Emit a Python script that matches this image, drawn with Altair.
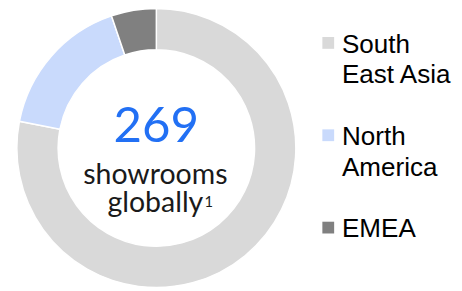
import altair as alt
import pandas as pd

regions = ["South East Asia", "North America", "EMEA"]
legend_labels = ["South\nEast Asia", "North\nAmerica", "EMEA"]
counts = [210, 45, 14]
colors = ["#d9d9d9", "#c9dafc", "#808080"]

total_text = ["269"]
sub_lines = ["showrooms", "globally"]
footnote = ["1"]

df = pd.DataFrame({"region": regions, "count": counts, "idx": list(range(len(regions))),
                   "label": legend_labels})

CX, CY = 151, 140

color_scale = alt.Scale(domain=regions, range=colors)

donut = alt.Chart(df).mark_arc(innerRadius=100, outerRadius=142, stroke="white", strokeWidth=1.5).encode(
    theta=alt.Theta("count:Q", stack=True),
    color=alt.Color("region:N", scale=color_scale, legend=None),
    order=alt.Order("idx:Q"),
    x=alt.value(CX), y=alt.value(CY),
)

big = alt.Chart(pd.DataFrame({"t": total_text})).mark_text(
    font="Lato", fontSize=50, color="#2270f4", baseline="alphabetic", align="center"
).encode(text="t:N", x=alt.value(CX), y=alt.value(134))

sub = alt.Chart(pd.DataFrame({"t": ["\n".join(sub_lines)]})).mark_text(
    font="Lato", fontSize=29, color="#1a1a1a", baseline="alphabetic", align="center",
    lineBreak="\n", lineHeight=28
).encode(text="t:N", x=alt.value(CX - 1), y=alt.value(177))

fn = alt.Chart(pd.DataFrame({"t": footnote})).mark_text(
    font="Lato", fontSize=15, color="#1a1a1a", baseline="alphabetic", align="left"
).encode(text="t:N", x=alt.value(CX + 49), y=alt.value(200))

ypos = alt.Y("region:N", scale=alt.Scale(domain=regions, range=[33, 221], padding=0), axis=None)

leg_sym = alt.Chart(df).mark_square(size=144, opacity=1).encode(
    x=alt.value(326), y=ypos,
    color=alt.Color("region:N", scale=color_scale, legend=None),
)

leg_txt = alt.Chart(df).mark_text(
    font="Liberation Sans", fontSize=26.5, align="left", baseline="alphabetic", dy=10,
    lineBreak="\n", lineHeight=31, color="#000000"
).encode(x=alt.value(340), y=ypos, text="label:N")

chart = alt.layer(donut, big, sub, fn, leg_sym, leg_txt).properties(
    width=454, height=283, autosize=alt.AutoSizeParams(type="none"), padding=0
).configure_view(stroke=None)

chart.save("out.html", embed_options={"renderer": "svg", "actions": False})
